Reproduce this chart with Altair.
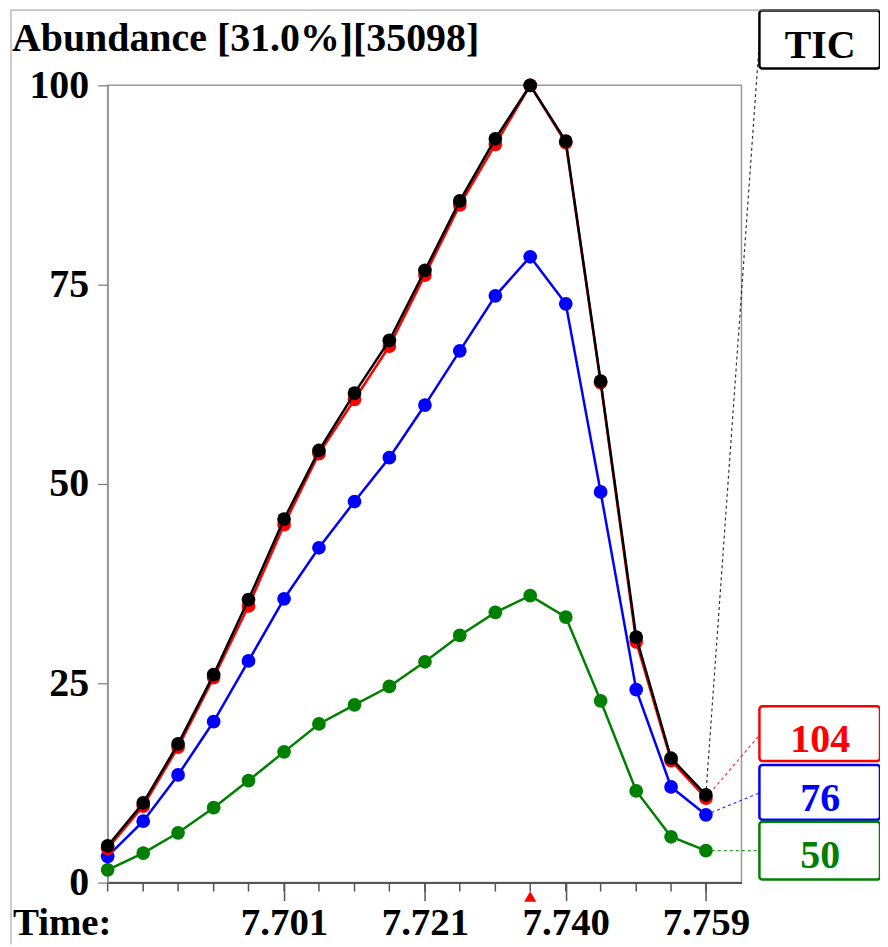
import altair as alt
import pandas as pd

# ---- data ----
times = [7.6770, 7.6819, 7.6867, 7.6916, 7.6964, 7.7013, 7.7061, 7.7110, 7.7158,
         7.7207, 7.7255, 7.7304, 7.7352, 7.7401, 7.7449, 7.7498, 7.7546, 7.7594]
major_times = [7.7013, 7.7207, 7.7401, 7.7594]
peak_time = [7.7352]

tic = [4.6, 10.0, 17.4, 26.1, 35.5, 45.6, 54.2, 61.4, 68.0, 76.8, 85.5, 93.3,
       100.0, 93.0, 62.9, 30.8, 15.6, 11.0]
mz104 = [4.3, 9.6, 17.0, 25.7, 34.7, 44.9, 53.8, 60.6, 67.3, 76.2, 85.0, 92.6,
         100.0, 92.8, 62.7, 30.2, 15.3, 10.6]
mz76 = [3.3, 7.7, 13.5, 20.2, 27.8, 35.6, 42.0, 47.8, 53.3, 59.9, 66.7, 73.6,
        78.5, 72.6, 49.0, 24.2, 12.0, 8.5]
mz50 = [1.6, 3.7, 6.25, 9.4, 12.8, 16.4, 19.9, 22.3, 24.6, 27.7, 31.0, 33.9,
        36.0, 33.3, 22.8, 11.5, 5.75, 4.0]

series_names = ["50", "76", "104", "TIC"]
series_vals = [mz50, mz76, mz104, tic]
series_colors = ["#008000", "#0000ff", "#ff0000", "#000000"]
y_ticks = [0, 25, 50, 75, 100]
title_text = "Abundance [31.0%][35098]"
x_title = "Time:"

FONT = "Liberation Serif"
FS = 40
FSX = 39
W, H = 636, 800

rows = []
for name, vals in zip(series_names, series_vals):
    for t, v in zip(times, vals):
        rows.append({"time": t, "value": v, "series": name})
df = pd.DataFrame(rows)
one = pd.DataFrame({"k": [0]})

xscale = alt.Scale(domain=[7.6770, 7.7643], nice=False, zero=False)
yscale = alt.Scale(domain=[0, 100], nice=False, zero=True)

xaxis = alt.Axis(values=major_times, format=".3f", tickSize=18, labelPadding=3,
                 title=None, grid=False, domainColor="#555555", domainWidth=2,
                 tickColor="#555555", tickWidth=1.5, labelFont=FONT,
                 labelFontSize=FSX, labelFontWeight="bold", labelColor="black",
                 labelFlush=False, labelOverlap=False)
yaxis = alt.Axis(values=y_ticks, tickSize=10, labelPadding=9, title=None,
                 grid=False, domainColor="#999999", domainWidth=1.5,
                 tickColor="#777777", tickWidth=1.2, labelFont=FONT,
                 labelFontSize=FS, labelFontWeight="bold", labelColor="black")

layers = []

# minor ticks at every scan
layers.append(
    alt.Chart(pd.DataFrame({"time": times})).mark_rule(color="#555555", strokeWidth=1.5).encode(
        x=alt.X("time:Q", scale=xscale, axis=xaxis),
        y=alt.value(H), y2=alt.value(H + 9))
)

# leader lines (behind boxes)
leader_ends = {"TIC": -45, "104": 652, "76": 710, "50": 768}
for name, vals, col in zip(series_names, series_vals, series_colors):
    last = pd.DataFrame({"time": [times[-1]], "value": [vals[-1]]})
    layers.append(
        alt.Chart(last).mark_rule(color=col, strokeWidth=1.2, strokeDash=[3, 3], opacity=0.8).encode(
            x=alt.X("time:Q", scale=xscale),
            y=alt.Y("value:Q", scale=yscale),
            x2=alt.value(654), y2=alt.value(leader_ends[name]))
    )

# series lines + points
for name, col in zip(series_names, series_colors):
    layers.append(
        alt.Chart(df).transform_filter(alt.datum.series == name).mark_line(
            color=col, strokeWidth=2.5,
            point=alt.OverlayMarkDef(filled=True, size=190, color=col, opacity=1)
        ).encode(
            x=alt.X("time:Q", scale=xscale, axis=xaxis),
            y=alt.Y("value:Q", scale=yscale, axis=yaxis))
    )

# peak marker
layers.append(
    alt.Chart(pd.DataFrame({"time": peak_time})).mark_point(
        shape="triangle-up", filled=True, color="#ff0000", size=150, opacity=1).encode(
        x=alt.X("time:Q", scale=xscale), y=alt.value(H + 14))
)

# labelled boxes
box_labels = ["TIC", "104", "76", "50"]
box_colors = ["#000000", "#ff0000", "#0000ff", "#008000"]
box_top = [-75, 623, 682, 739]
box_bot = [-17, 678, 737, 797]
text_base = [-27, 669, 728, 785]
bdf = pd.DataFrame({"label": box_labels})
for lab, col, t, b, tb in zip(box_labels, box_colors, box_top, box_bot, text_base):
    layers.append(
        alt.Chart(bdf).transform_filter(alt.datum.label == lab).mark_rect(
            fill="white", stroke=col, strokeWidth=2.5, cornerRadius=3).encode(
            x=alt.value(654), x2=alt.value(775), y=alt.value(t), y2=alt.value(b))
    )
    layers.append(
        alt.Chart(bdf).transform_filter(alt.datum.label == lab).mark_text(
            font=FONT, fontSize=FS, fontWeight="bold", color=col,
            align="center", baseline="alphabetic").encode(
            text="label:N", x=alt.value(715), y=alt.value(tb))
    )

# title and time label
layers.append(
    alt.Chart(pd.DataFrame({"t": [title_text]})).mark_text(
        font=FONT, fontSize=FS, fontWeight="bold", color="black",
        align="left", baseline="alphabetic").encode(
        text="t:N", x=alt.value(-96), y=alt.value(-34))
)
layers.append(
    alt.Chart(pd.DataFrame({"t": [x_title]})).mark_text(
        font=FONT, fontSize=FSX, fontWeight="bold", color="black",
        align="left", baseline="alphabetic").encode(
        text="t:N", x=alt.value(-95), y=alt.value(853))
)

# outer frame lines
layers.append(
    alt.Chart(one).mark_rule(color="#999999", strokeWidth=1).encode(
        x=alt.value(-97), x2=alt.value(782), y=alt.value(-75.5))
)
layers.append(
    alt.Chart(one).mark_rule(color="#999999", strokeWidth=1).encode(
        x=alt.value(-97), y=alt.value(-76), y2=alt.value(862))
)

chart = alt.layer(*layers).properties(
    width=W, height=H,
    autosize=alt.AutoSizeParams(type="none"),
    padding={"left": 100, "top": 76, "right": 139, "bottom": 63},
).configure_view(stroke="#999999", strokeWidth=1.5)

chart.save("out.html", embed_options={"renderer": "svg", "actions": False})
